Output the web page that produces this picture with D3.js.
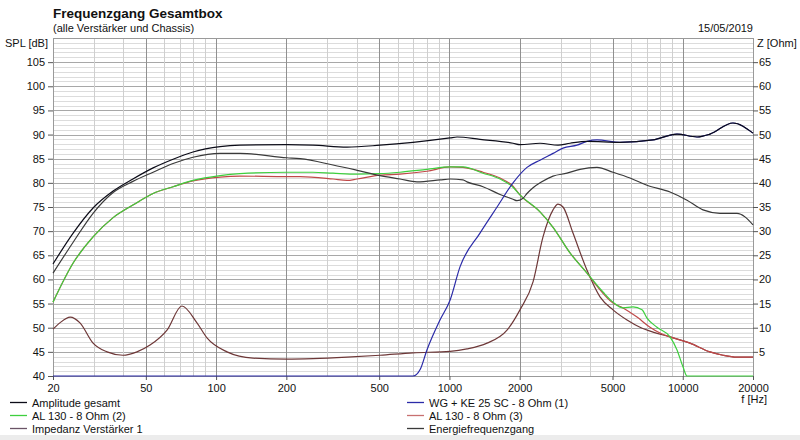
<!DOCTYPE html>
<html>
<head>
<meta charset="utf-8">
<script src="https://cdn.jsdelivr.net/npm/d3@7"></script>
<style>
  html, body { margin: 0; padding: 0; background: #fff; }
  svg { display: block; }
  text { font-family: "Liberation Sans", Arial, sans-serif; fill: #111; }
</style>
</head>
<body>
<svg id="chart" width="800" height="440"></svg>
<script>
// ---------- data ----------
const xTicks = [20, 50, 100, 200, 500, 1000, 2000, 5000, 10000, 20000];
const splTicks = [40, 45, 50, 55, 60, 65, 70, 75, 80, 85, 90, 95, 100, 105];
const zTicks = [5, 10, 15, 20, 25, 30, 35, 40, 45, 50, 55, 60, 65];

// Amplitude gesamt (SPL dB)
const ampFreq = [20, 24.4, 29.7, 36.2, 44, 53.7, 65.4, 79.6, 104, 126.6, 201, 260, 364, 504, 698, 1006, 1078, 1352, 1873, 2006, 2445, 2920, 3287, 3888, 5383, 7454, 9450, 11510, 13080, 16410, 20000];
const ampSPL  = [63.2, 69.6, 74.8, 78.3, 80.8, 83.1, 84.9, 86.4, 87.5, 87.8, 87.9, 87.8, 87.4, 87.8, 88.4, 89.3, 89.5, 89.0, 88.2, 87.9, 88.2, 87.8, 88.2, 88.6, 88.4, 88.9, 90.1, 89.5, 90.1, 92.4, 90.3];

// WG + KE 25 SC - 8 Ohm (1) (SPL dB)
const wgFreq = [20, 698, 750, 801, 911, 1006, 1110, 1352, 1600, 1873, 2150, 2445, 2780, 3068, 3521, 3888, 4290, 5383, 7454, 9450, 11510, 13080, 16410, 20000];
const wgSPL  = [40, 40, 41.4, 45.4, 51.6, 55.7, 62.6, 69.6, 75.0, 80.0, 83.2, 84.7, 86.1, 87.2, 87.8, 88.6, 88.9, 88.4, 88.9, 90.1, 89.5, 90.1, 92.4, 90.3];

// AL 130 - 8 Ohm (2) (SPL dB)
const al2Freq = [20, 24.4, 29.7, 36.2, 44, 53.7, 65.4, 79.6, 104, 126.6, 201, 260, 317, 402, 504, 614, 801, 1006, 1143, 1393, 1648, 1873, 2006, 2445, 2780, 3287, 3888, 4551, 5024, 5546, 6120, 6690, 7026, 7754, 8820, 9450, 10020, 10430, 20000];
const al2SPL  = [55.3, 63.4, 68.8, 72.8, 75.4, 77.8, 79.2, 80.5, 81.5, 81.9, 82.2, 82.2, 82.0, 81.8, 81.9, 82.2, 82.8, 83.3, 83.3, 82.0, 80.8, 79.1, 77.5, 74.0, 70.8, 65.5, 61.3, 57.4, 55.3, 54.1, 54.3, 53.7, 52.0, 50.1, 48.1, 45.4, 41.9, 40.0, 40.0];

// AL 130 - 8 Ohm (3) (SPL dB)
const al3Freq = [20, 24.4, 29.7, 36.2, 44, 53.7, 65.4, 79.6, 104, 126.6, 201, 229, 317, 364, 402, 504, 614, 801, 1006, 1143, 1393, 1648, 1873, 2006, 2445, 2780, 3287, 3888, 4290, 5024, 5546, 6368, 7238, 7990, 8820, 10740, 13080, 14870, 17070, 20000];
const al3SPL  = [55.3, 63.4, 68.8, 72.8, 75.4, 77.8, 79.2, 80.4, 81.2, 81.4, 81.3, 81.3, 80.8, 80.5, 80.8, 81.6, 81.8, 82.4, 83.3, 83.2, 82.2, 81.0, 79.3, 77.5, 74.0, 70.8, 65.5, 61.3, 58.6, 55.1, 54.1, 52.2, 50.1, 48.9, 48.1, 46.8, 45.0, 44.3, 43.9, 43.9];

// Impedanz Verstärker 1 (Ohm)
const impFreq = [20, 21.4, 23.7, 26.1, 29.7, 34.1, 39.9, 45.8, 52.1, 61.6, 71.4, 82.8, 91.4, 111.4, 144, 201, 260, 364, 504, 698, 1006, 1189, 1449, 1765, 2006, 2282, 2518, 2780, 2920, 3068, 3385, 3888, 4419, 5024, 5770, 6557, 7454, 8820, 10740, 13080, 14870, 17070, 20000];
const impOhm  = [9.7, 11.0, 12.2, 11.0, 6.8, 5.0, 4.3, 5.0, 6.4, 9.5, 14.5, 11.0, 7.9, 5.0, 3.7, 3.5, 3.6, 3.9, 4.3, 4.8, 5.1, 5.6, 6.8, 9.5, 13.7, 19.5, 28.8, 34.4, 35.6, 35.0, 29.6, 21.9, 16.4, 13.7, 11.6, 10.1, 9.1, 8.1, 6.8, 5.0, 4.3, 3.9, 3.9];

// Energiefrequenzgang (SPL dB)
const engFreq = [20, 24.4, 29.7, 36.2, 44, 53.7, 65.4, 79.6, 104, 126.6, 201, 229, 317, 402, 504, 614, 726, 911, 1006, 1143, 1189, 1393, 1648, 1873, 1948, 2067, 2150, 2282, 2445, 2780, 3192, 3628, 4290, 5024, 5943, 7026, 8820, 10430, 12210, 14440, 17070, 20000];
const engSPL  = [61.3, 67.7, 73.7, 78.0, 80.3, 82.2, 84.0, 85.3, 86.1, 86.1, 85.2, 85.0, 83.7, 82.6, 81.5, 80.8, 80.2, 80.6, 80.8, 80.6, 80.2, 79.2, 77.6, 76.6, 76.3, 76.8, 77.8, 79.0, 80.0, 81.4, 82.0, 82.8, 83.2, 82.2, 81.0, 79.5, 78.1, 76.4, 74.4, 73.7, 73.7, 71.3];

const legendNames = ["Amplitude gesamt", "AL 130 - 8 Ohm (2)", "Impedanz Verstärker 1",
                     "WG + KE 25 SC - 8 Ohm (1)", "AL 130 - 8 Ohm (3)", "Energiefrequenzgang"];

// ---------- layout ----------
const svg = d3.select("#chart");
const L = 53, R = 753, T = 38, B = 376;
const x = d3.scaleLog().domain([20, 20000]).range([L, R]);
const y = d3.scaleLinear().domain([40, 110]).range([B, T]);
const z = d3.scaleLinear().domain([0, 70]).range([B, T]);

svg.append("rect").attr("x", 0).attr("y", 0).attr("width", 800).attr("height", 440).attr("fill", "#fff");
svg.append("rect").attr("x", 0).attr("y", 435).attr("width", 800).attr("height", 5).attr("fill", "#ececec");

// horizontal grid
const grid = svg.append("g").attr("shape-rendering", "crispEdges");
d3.range(41, 110).forEach(v => {
  const major = v % 5 === 0;
  grid.append("line").attr("x1", L).attr("x2", R)
    .attr("y1", Math.round(y(v)) + 0.5).attr("y2", Math.round(y(v)) + 0.5)
    .attr("stroke", major ? "#a8a8a8" : "#dcdcdc").attr("stroke-width", 1);
});
// vertical grid
const vFreqs = [];
[10, 100, 1000, 10000].forEach(d => d3.range(1, 10).forEach(m => {
  const f = d * m; if (f > 20 && f < 20000) vFreqs.push({ f, major: [1, 2, 5].includes(m) });
}));
vFreqs.forEach(o => {
  grid.append("line").attr("y1", T).attr("y2", B)
    .attr("x1", Math.round(x(o.f)) + 0.5).attr("x2", Math.round(x(o.f)) + 0.5)
    .attr("stroke", o.major ? "#909090" : "#cfcfcf").attr("stroke-width", 1);
});
// frame
grid.append("rect").attr("x", L + 0.5).attr("y", T + 0.5).attr("width", R - L).attr("height", B - T)
  .attr("fill", "none").attr("stroke", "#9a9a9a");

// axes
const axL = svg.append("g").attr("transform", `translate(${L},0)`)
  .call(d3.axisLeft(y).tickValues(splTicks).tickSize(5).tickPadding(3));
const axR = svg.append("g").attr("transform", `translate(${R},0)`)
  .call(d3.axisRight(z).tickValues(zTicks).tickSize(5).tickPadding(1));
const axB = svg.append("g").attr("transform", `translate(0,${B})`)
  .call(d3.axisBottom(x).tickValues(xTicks).tickFormat(d3.format("d")).tickSize(4).tickPadding(4));
[axL, axR, axB].forEach(a => {
  a.select(".domain").remove();
  a.selectAll(".tick line").attr("stroke", "#555");
  a.selectAll("text").attr("font-size", 11).attr("fill", "#111")
    .style("font-family", "'Liberation Sans', Arial, sans-serif");
});

// titles
svg.append("text").attr("x", 53).attr("y", 18).attr("font-size", 13.5).attr("font-weight", "bold")
  .text("Frequenzgang Gesamtbox");
svg.append("text").attr("x", 53).attr("y", 32).attr("font-size", 11).text("(alle Verstärker und Chassis)");
svg.append("text").attr("x", 753).attr("y", 32).attr("font-size", 11).attr("text-anchor", "end").text("15/05/2019");
svg.append("text").attr("x", 48).attr("y", 47).attr("font-size", 11).attr("text-anchor", "end").text("SPL [dB]");
svg.append("text").attr("x", 757).attr("y", 47).attr("font-size", 11).text("Z [Ohm]");
svg.append("text").attr("x", 767).attr("y", 403).attr("font-size", 11).attr("text-anchor", "end").text("f [Hz]");

// curves
const line = d3.line().curve(d3.curveMonotoneX);
const mk = (fs, vs, sc) => fs.map((f, i) => [x(f), sc(vs[i])]);
const series = [
  { pts: mk(impFreq, impOhm, z), color: "#6e3838" },
  { pts: mk(al3Freq, al3SPL, y), color: "#c04848" },
  { pts: mk(al2Freq, al2SPL, y), color: "#3ecf3e" },
  { pts: mk(engFreq, engSPL, y), color: "#3a3a3a" },
  { pts: mk(wgFreq, wgSPL, y), color: "#2b2ba8" },
  { pts: mk(ampFreq, ampSPL, y), color: "#0c0c18" }
];
const cg = svg.append("g");
series.forEach(s => {
  cg.append("path").attr("d", line(s.pts)).attr("fill", "none")
    .attr("stroke", s.color).attr("stroke-width", 1.2).attr("stroke-linejoin", "round");
});

// legend
const legColors = ["#0c0c18", "#3ecf3e", "#6a5466", "#2b2ba8", "#c87070", "#3a3a3a"];
const legPos = [[10, 403], [10, 416], [10, 429], [407, 403], [407, 416], [407, 429]];
legendNames.forEach((n, i) => {
  const [lx, ly] = legPos[i];
  svg.append("line").attr("x1", lx).attr("x2", lx + 17).attr("y1", ly - 0.5).attr("y2", ly - 0.5)
    .attr("stroke", legColors[i]).attr("stroke-width", 1.3);
  svg.append("text").attr("x", lx + 22).attr("y", ly + 4).attr("font-size", 11).text(n);
});
</script>
</body>
</html>
